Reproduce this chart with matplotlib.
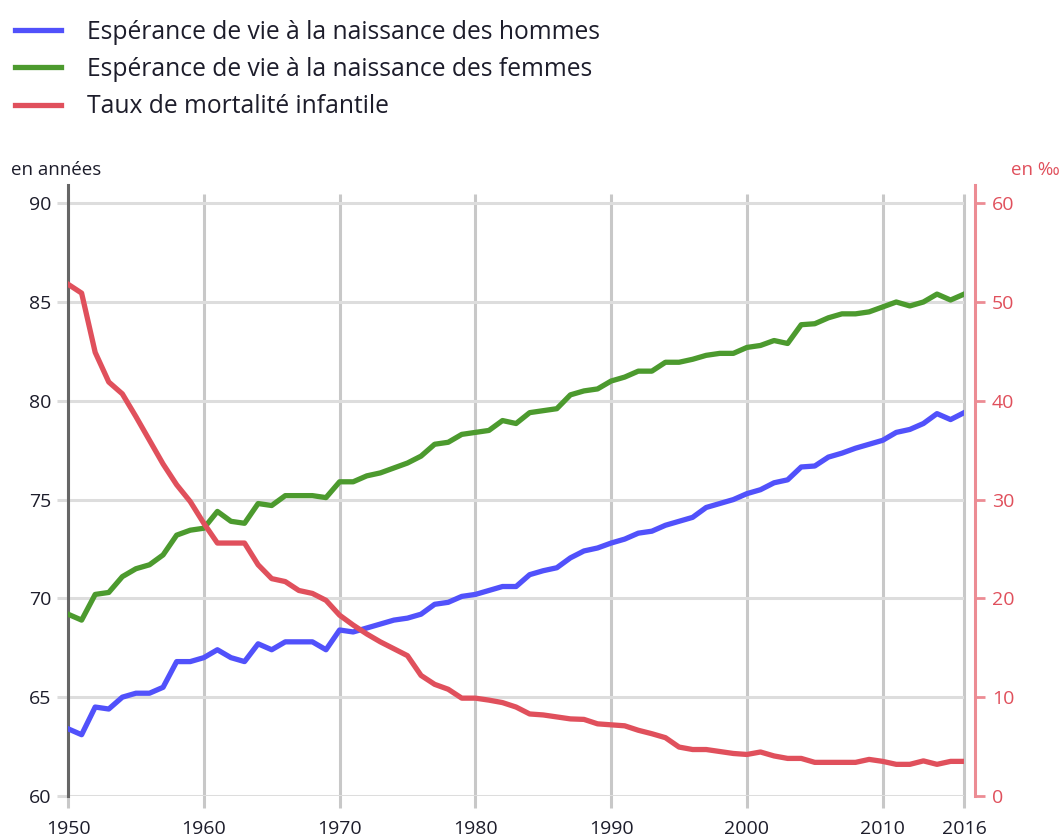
import numpy as np
import matplotlib
matplotlib.use("Agg")
import matplotlib.pyplot as plt

plt.rcParams["font.family"] = ["Open Sans", "DejaVu Sans"]

annees = list(range(1950, 2017))

esperance_hommes = [
    63.4, 63.1, 64.5, 64.4, 65.0, 65.2, 65.2, 65.5, 66.8, 66.8,
    67.0, 67.4, 67.0, 66.8, 67.7, 67.4, 67.8, 67.8, 67.8, 67.4,
    68.4, 68.3, 68.5, 68.7, 68.9, 69.0, 69.2, 69.7, 69.8, 70.1,
    70.2, 70.4, 70.6, 70.6, 71.2, 71.4, 71.55, 72.05, 72.4, 72.55,
    72.8, 73.0, 73.3, 73.4, 73.7, 73.9, 74.1, 74.6, 74.8, 75.0,
    75.3, 75.5, 75.85, 76.0, 76.65, 76.7, 77.15, 77.35, 77.6, 77.8,
    78.0, 78.4, 78.55, 78.85, 79.35, 79.05, 79.4,
]

esperance_femmes = [
    69.2, 68.9, 70.2, 70.3, 71.1, 71.5, 71.7, 72.2, 73.2, 73.45,
    73.55, 74.4, 73.9, 73.8, 74.8, 74.7, 75.2, 75.2, 75.2, 75.1,
    75.9, 75.9, 76.2, 76.35, 76.6, 76.85, 77.2, 77.8, 77.9, 78.3,
    78.4, 78.5, 79.0, 78.85, 79.4, 79.5, 79.6, 80.3, 80.5, 80.6,
    81.0, 81.2, 81.5, 81.5, 81.95, 81.95, 82.1, 82.3, 82.4, 82.4,
    82.7, 82.8, 83.05, 82.9, 83.85, 83.9, 84.2, 84.4, 84.4, 84.5,
    84.75, 85.0, 84.8, 85.0, 85.4, 85.1, 85.4,
]

mortalite_infantile = [
    51.8, 50.9, 44.9, 41.9, 40.7, 38.4, 36.0, 33.6, 31.5, 29.8,
    27.6, 25.6, 25.6, 25.6, 23.4, 22.0, 21.7, 20.8, 20.5, 19.8,
    18.3, 17.3, 16.4, 15.6, 14.9, 14.2, 12.2, 11.3, 10.8, 9.9,
    9.9, 9.7, 9.45, 9.0, 8.3, 8.2, 8.0, 7.8, 7.75, 7.3,
    7.2, 7.1, 6.65, 6.3, 5.9, 4.95, 4.7, 4.7, 4.5, 4.3,
    4.2, 4.45, 4.05, 3.8, 3.8, 3.4, 3.4, 3.4, 3.4, 3.7,
    3.5, 3.2, 3.2, 3.55, 3.2, 3.5, 3.5,
]

x_ticks = [1950, 1960, 1970, 1980, 1990, 2000, 2010, 2016]
y_ticks_gauche = [60, 65, 70, 75, 80, 85, 90]
y_ticks_droite = [0, 10, 20, 30, 40, 50, 60]

BLEU = "#5151fb"
VERT = "#4c9a2e"
ROUGE = "#e0505c"
ROUGE_AXE = "#ec8c94"
TEXTE = "#1d1d2b"
GRILLE = "#dddddd"

fig = plt.figure(figsize=(10.63, 8.39), dpi=100)
ax = fig.add_axes([0.064, 0.0513, 0.843, 0.7277])

ax.set_xlim(1950, 2016)
ax.set_ylim(60, 90.9)

# grille verticale
ax.vlines(x_ticks, 59.4, 90.45, colors="#c8c8c8", linewidth=2.2, zorder=0, clip_on=False)
# grille horizontale
for v in y_ticks_gauche:
    ax.axhline(v, color=GRILLE, linewidth=2.2, zorder=0)

l1, = ax.plot(annees, esperance_hommes, color=BLEU, linewidth=3.8, solid_joinstyle="round", zorder=3)
l2, = ax.plot(annees, esperance_femmes, color=VERT, linewidth=3.8, solid_joinstyle="round", zorder=3)

ax.set_yticks(y_ticks_gauche)
ax.set_xticks(x_ticks)
ax.tick_params(axis="y", length=8, width=2.2, color=GRILLE, labelsize=14, labelcolor=TEXTE, pad=4)
ax.tick_params(axis="x", length=0, labelsize=14, labelcolor=TEXTE, pad=17)
for s in ["top", "right", "bottom"]:
    ax.spines[s].set_visible(False)
ax.spines["left"].set_color("#666666")
ax.spines["left"].set_linewidth(2.2)

ax2 = ax.twinx()
ax2.set_ylim(0, 61.8)
l3, = ax2.plot(annees, mortalite_infantile, color=ROUGE, linewidth=3.8, solid_joinstyle="round", zorder=3)
ax2.set_yticks(y_ticks_droite)
for s in ["top", "left", "bottom"]:
    ax2.spines[s].set_visible(False)
ax2.spines["right"].set_position(("outward", 8))
ax2.spines["right"].set_color(ROUGE_AXE)
ax2.spines["right"].set_linewidth(2.2)
ax2.tick_params(axis="y", length=7, width=2.0, color=ROUGE_AXE, labelsize=14, labelcolor=ROUGE, pad=5)

fig.text(0.010, 0.787, "en années", fontsize=13.5, color=TEXTE, va="bottom")
fig.text(0.997, 0.787, "en ‰", fontsize=13.5, color=ROUGE, va="bottom", ha="right")

fig.legend([l1, l2, l3],
           ["Espérance de vie à la naissance des hommes",
            "Espérance de vie à la naissance des femmes",
            "Taux de mortalité infantile"],
           loc="upper left", bbox_to_anchor=(-0.007, 1.003), frameon=False,
           fontsize=17.7, handlelength=1.9, handletextpad=1.05, labelspacing=0.5,
           labelcolor=TEXTE)

fig.savefig("out.png", dpi=100)
